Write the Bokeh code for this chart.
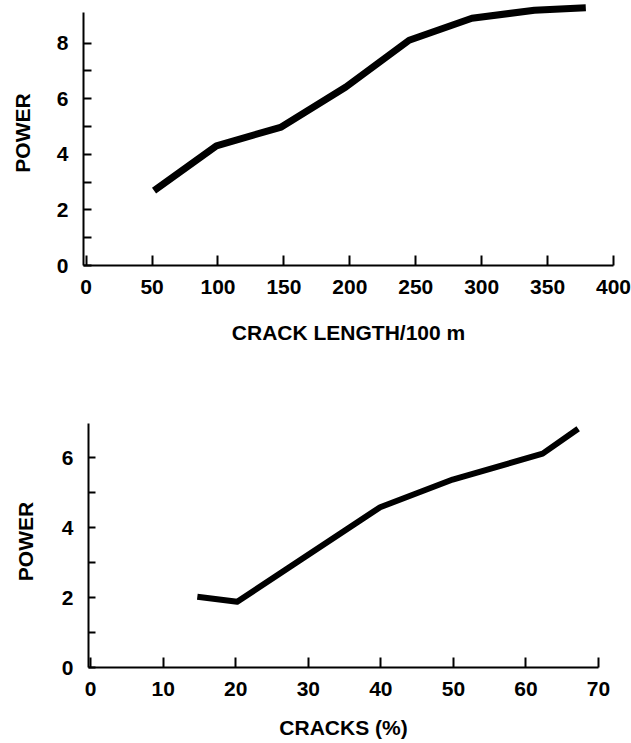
from bokeh.plotting import figure
from bokeh.models import FixedTicker, Range1d
from bokeh.embed import file_html
from bokeh.resources import INLINE

# ---- data: top panel (power vs crack length) ----
crack_length = [51.5, 98.8, 148, 197, 245, 292.6, 340, 379]
power_length = [2.69, 4.30, 4.98, 6.42, 8.10, 8.89, 9.18, 9.27]
length_ticks = [0, 50, 100, 150, 200, 250, 300, 350, 400]
power_ticks_top = [0, 2, 4, 6, 8]
power_minor_top = [1, 3, 5, 7]

# ---- data: bottom panel (power vs cracks %) ----
cracks_pct = [14.7, 20.2, 39.9, 49.9, 62.3, 67.2]
power_pct = [2.02, 1.88, 4.58, 5.37, 6.11, 6.82]
pct_ticks = [0, 10, 20, 30, 40, 50, 60, 70]
power_ticks_bot = [0, 2, 4, 6]
power_minor_bot = [1, 3, 5]

FONT = "Liberation Sans"
FS = "21px"


def style_axes(p, xlabel, ylabel, xticks, yticks, yminor, ybounds,
               x_tick_len, y_tick_len, x_std, x_lab_std, y_std, y_lab_std):
    p.grid.visible = False
    p.outline_line_color = None
    p.background_fill_color = "white"
    p.border_fill_color = "white"
    xa = p.xaxis[0]
    ya = p.yaxis[0]
    xa.ticker = FixedTicker(ticks=xticks)
    ya.ticker = FixedTicker(ticks=yticks, minor_ticks=yminor)
    ya.bounds = ybounds
    xa.axis_label = xlabel
    ya.axis_label = ylabel
    for ax in (xa, ya):
        ax.axis_line_width = 2
        ax.axis_line_color = "black"
        ax.major_tick_line_color = "black"
        ax.major_tick_line_width = 2
        ax.minor_tick_line_color = "black"
        ax.minor_tick_line_width = 2
        ax.major_tick_out = 0
        ax.minor_tick_out = 0
        ax.major_label_text_font = FONT
        ax.major_label_text_font_size = FS
        ax.major_label_text_font_style = "bold"
        ax.major_label_text_color = "black"
        ax.axis_label_text_font = FONT
        ax.axis_label_text_font_size = FS
        ax.axis_label_text_font_style = "bold"
        ax.axis_label_text_color = "black"
    xa.major_tick_in = x_tick_len
    xa.minor_tick_in = 0
    ya.major_tick_in = y_tick_len
    ya.minor_tick_in = y_tick_len
    xa.major_label_standoff = x_std
    xa.axis_label_standoff = x_lab_std
    ya.major_label_standoff = y_std
    ya.axis_label_standoff = y_lab_std


p1 = figure(width=631, height=346, output_backend="svg", toolbar_location=None,
            x_range=Range1d(-2, 400), y_range=Range1d(0, 9.53),
            min_border_left=83, min_border_right=18, min_border_top=0,
            min_border_bottom=0)
p1.line(crack_length, power_length, line_width=7, line_color="black",
        line_join="round")
style_axes(p1, "CRACK LENGTH/100 m", "POWER", length_ticks, power_ticks_top,
           power_minor_top, (0, 9.1), 10, 8, 14, 24, 15, 20)

p2 = figure(width=631, height=395, output_backend="svg", toolbar_location=None,
            x_range=Range1d(-0.3, 70), y_range=Range1d(0, 7.2),
            min_border_left=88, min_border_right=33, min_border_top=69,
            min_border_bottom=0)
p2.line(cracks_pct, power_pct, line_width=6, line_color="black",
        line_join="round")
style_axes(p2, "CRACKS (%)", "POWER", pct_ticks, power_ticks_bot,
           power_minor_bot, (0, 6.97), 10, 7, 14, 17, 15, 22)

open("out.html", "w").write(file_html([p1, p2], INLINE))
